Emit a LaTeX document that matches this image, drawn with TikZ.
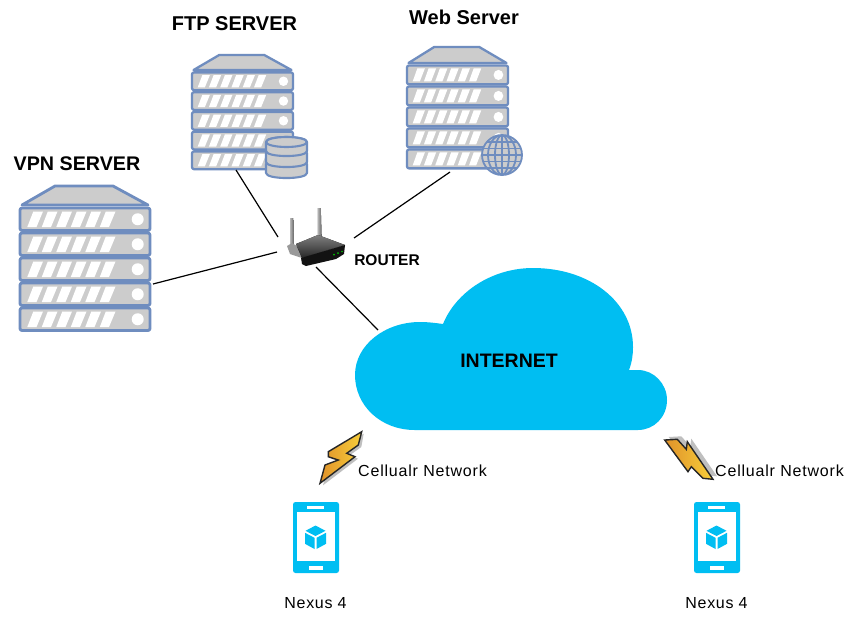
\documentclass[tikz,border=0pt]{standalone}
\usepackage{fontspec}
\setmainfont{Liberation Sans}
\definecolor{srvline}{HTML}{6F8DBF}
\definecolor{srvfill}{HTML}{CCCCCC}
\definecolor{skyblue}{HTML}{00BEF2}
\definecolor{boltA}{HTML}{F7CE3A}
\definecolor{boltB}{HTML}{E0922A}
\tikzset{
  srvshape/.style={draw=srvline,fill=srvfill,line join=round},
  srvstripe/.style={fill=white,draw=none},
  link/.style={draw=black,line width=1.2pt},
  title/.style={font=\bfseries\fontsize{20}{22}\selectfont,inner sep=0pt,text=black},
  small/.style={font=\fontsize{16}{18}\selectfont\addfontfeature{LetterSpace=5},inner sep=0pt,text=black},
  nexus/.style={font=\fontsize{16}{18}\selectfont\addfontfeature{LetterSpace=4.4},inner sep=0pt,text=black},
  bolt/.style={draw=black!85,line width=1.4pt,line join=miter,left color=boltB,right color=boltA},
  boltshadow/.style={fill=black!25,draw=none}
}
% x, y of top-left, xscale, yscale, line width
\newcommand{\ServerStack}[5]{%
  \begin{scope}[shift={(#1,#2)},xscale=#3,yscale=#4,line width=#5]
    \path[srvshape] (2,19) -- (35,0) -- (93,0) -- (128,19) -- cycle;
    \foreach \r in {0,1,2,3,4}{
      \begin{scope}[shift={(0,22+25*\r)}]
        \path[srvshape,rounded corners=2pt] (0,0) rectangle (130,22.5);
        \foreach \s in {0,...,5}{
          \path[srvstripe] (7.3+14.5*\s,19) -- (13.3+14.5*\s,3.5) -- (23+14.5*\s,3.5) -- (16.5+14.5*\s,19) -- cycle;
        }
        \fill[white] (117.7,11.25) ellipse ({6*sqrt(#4/#3)} and 6);
      \end{scope}
    }
  \end{scope}}
\newcommand{\PhoneIcon}[1]{%
  \begin{scope}[shift={(#1,502)}]
    \fill[skyblue,rounded corners=2.5pt] (0,0) rectangle (46,71);
    \fill[white] (4,10) rectangle (42,59);
    \fill[white] (14,4.4) rectangle (31,6.8);
    \fill[white] (16,64) rectangle (30,68);
    \begin{scope}[shift={(22.5,35)}]
      \fill[skyblue] (0,-11.5) -- (10,-6.2) -- (0,-1) -- (-10,-6.2) -- cycle;
      \fill[skyblue] (-10.5,-4.2) -- (-1,0.8) -- (-1,12) -- (-10.5,6.8) -- cycle;
      \fill[skyblue] (10.5,-4.2) -- (1,0.8) -- (1,12) -- (10.5,6.8) -- cycle;
    \end{scope}
  \end{scope}}
\begin{document}
\begin{tikzpicture}[x=1pt,y=-1pt]
\useasboundingbox (0,0) rectangle (858,630);
\fill[white] (0,0) rectangle (858,630);

% servers
\ServerStack{20}{186}{1}{1}{2.8pt}
\ServerStack{192}{55}{0.777}{0.79}{2.3pt}
\ServerStack{407}{47}{0.777}{0.84}{2.3pt}

% database badge
\begin{scope}[line width=2.1pt]
  \foreach \yy in {164,153,142}{
    \path[srvshape] (266,\yy) -- (266,\yy+9)
       .. controls (266,\yy+15.7) and (307,\yy+15.7) .. (307,\yy+9)
       -- (307,\yy)
       .. controls (307,\yy-6.7) and (266,\yy-6.7) .. (266,\yy) -- cycle;
  }
  \path[srvshape] (286.5,142) ellipse (20.5 and 5);
\end{scope}

% globe badge
\begin{scope}[shift={(502,155)},line width=1.8pt]
  \path[srvshape] (0,0) circle (20);
  \begin{scope}
    \clip (0,0) circle (20);
    \draw[srvline] (0,-20) -- (0,20);
    \draw[srvline] (0,0) ellipse (7 and 20);
    \draw[srvline] (0,0) ellipse (14 and 20);
    \foreach \h in {-13,-6.5,0,6.5,13}{\draw[srvline] (-20,\h) -- (20,\h);}
  \end{scope}
\end{scope}

% router
\begin{scope}
  \fill[left color=black!30,right color=black!60] (290.2,218) -- (293.2,218) -- (293.8,248) -- (290.2,248) -- cycle;
  \fill[left color=black!30,right color=black!60] (317.8,208) -- (320.8,208) -- (321.6,238) -- (318,238) -- cycle;
  \fill[black!40] (287,246) -- (292,243) -- (300,248) -- (302,258) -- (290,254) -- cycle;
  \fill[top color=black!50,bottom color=black!85] (296,244) -- (318,235) -- (345,245) -- (302,258) -- cycle;
  \fill[black!93] (301,258) -- (345,245) -- (344,254) -- (336,259) -- (306,266) -- (302,264) -- cycle;
  \fill[green!75!black] (334,254.5) circle (1) (338,253) circle (1) (342,251.5) circle (0.9);
\end{scope}
\coordinate (routerA) at (278,237);
\coordinate (routerB) at (354,238);
\coordinate (routerC) at (277,252);
\coordinate (routerD) at (316,267);
\coordinate (ftpPort) at (236,170);
\coordinate (webPort) at (450,172);
\coordinate (vpnPort) at (153,284);
\coordinate (cloudPort) at (378,330);
\draw[link] (ftpPort) -- (routerA);
\draw[link] (webPort) -- (routerB);
\draw[link] (vpnPort) -- (routerC);
\draw[link] (routerD) -- (cloudPort);

% cloud
\fill[skyblue] (415,430)
  .. controls (380,430) and (355,405) .. (355,375)
  .. controls (355,345) and (385,322) .. (420,322)
  .. controls (428,322) and (436,323) .. (443,324)
  .. controls (456,292) and (492,268) .. (533,268)
  .. controls (590,268) and (633,302) .. (633,347)
  .. controls (633,355) and (632,362) .. (629,370)
  -- (638,370)
  .. controls (654,370) and (667,384) .. (667,400)
  .. controls (667,417) and (654,430) .. (638,430)
  -- cycle;

% bolts
\path[boltshadow] (363.7,433.7) -- (361.3,447) -- (349.7,455.3) -- (358,458.7) -- (323,485.3) -- (328,467) -- (341.3,462) -- (331.3,458.7) -- (331.3,453.7) -- cycle;
\path[bolt] (361.7,431.7) -- (358.3,445) -- (346.7,453.3) -- (355,456.7) -- (320,483.3) -- (325,465) -- (338.3,460) -- (328.3,456.7) -- (328.3,451.7) -- cycle;
\path[boltshadow] (668.7,437) -- (681.3,436.3) -- (690.3,446.3) -- (691.3,438.7) -- (717,476.3) -- (707,475.3) -- (695.3,463.7) -- (692,468.7) -- cycle;
\path[bolt] (664.7,440) -- (677.3,439.3) -- (686.3,449.3) -- (687.3,441.7) -- (713,479.3) -- (703,478.3) -- (691.3,466.7) -- (688,471.7) -- cycle;

% phones
\PhoneIcon{293}
\PhoneIcon{694}

% labels
\node[title] (ftpLabel) at (234.5,23.5) {FTP SERVER};
\node[title] (webLabel) at (464,17) {Web Server};
\node[title,font=\bfseries\fontsize{19.7}{22}\selectfont] (vpnLabel) at (77,164) {VPN SERVER};
\node[title,font=\bfseries\fontsize{15.5}{17}\selectfont] (routerLabel) at (387,260) {ROUTER};
\node[title,font=\bfseries\fontsize{19.5}{21}\selectfont] (netLabel) at (509,360.5) {INTERNET};
\node[small] (cellA) at (422.5,471) {Cellualr Network};
\node[small] (cellB) at (779.5,471) {Cellualr Network};
\node[nexus] (nexA) at (315.5,603) {Nexus 4};
\node[nexus] (nexB) at (716.5,603) {Nexus 4};
\end{tikzpicture}
\end{document}
